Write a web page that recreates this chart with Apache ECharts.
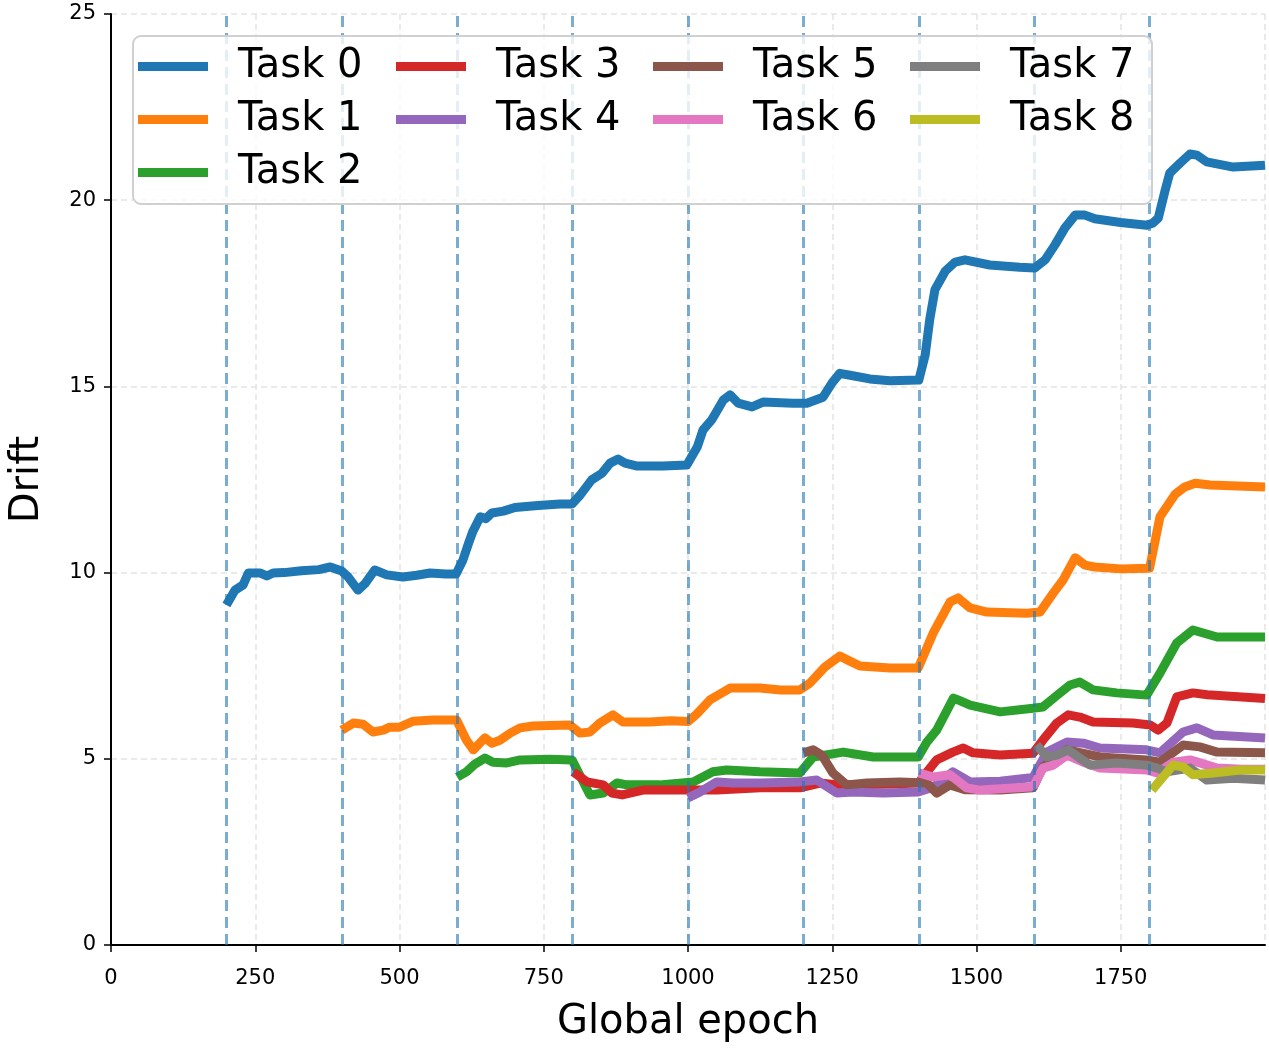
<!DOCTYPE html>
<html><head><meta charset="utf-8">
<script src="https://cdn.jsdelivr.net/npm/echarts@6/dist/echarts.min.js"></script>
<style>html,body{margin:0;padding:0;background:#fff}#c{width:1269px;height:1049px}</style>
</head><body><div id="c"></div>
<script>
const taskNames = ['Task 0','Task 1','Task 2','Task 3','Task 4','Task 5','Task 6','Task 7','Task 8'];
const taskColors = ['#1f77b4','#ff7f0e','#2ca02c','#d62728','#9467bd','#8c564b','#e377c2','#7f7f7f','#bcbd22'];
const boundaries = [200,400,600,800,1000,1200,1400,1600,1800];
const xTicks = [0,250,500,750,1000,1250,1500,1750];
const yTicks = [0,5,10,15,20,25];

const task0 = [[200,9.13],[215,9.53],[229,9.67],[238,9.99],[258,9.99],[270,9.91],[281,9.99],[300,10.0],[330,10.05],[360,10.08],[380,10.15],[400,10.04],[410,9.9],[428,9.53],[440,9.7],[457,10.07],[478,9.94],[506,9.88],[530,9.93],[553,9.99],[580,9.96],[598,9.96],[610,10.34],[620,10.8],[627,11.1],[640,11.5],[650,11.45],[660,11.6],[680,11.65],[700,11.75],[740,11.8],[778,11.84],[799,11.84],[813,12.08],[833,12.49],[851,12.67],[865,12.94],[879,13.05],[891,12.94],[912,12.86],[957,12.86],[998,12.89],[1016,13.37],[1026,13.83],[1041,14.1],[1061,14.63],[1073,14.77],[1087,14.55],[1111,14.45],[1130,14.58],[1182,14.55],[1206,14.55],[1234,14.71],[1250,15.1],[1263,15.35],[1281,15.3],[1315,15.2],[1350,15.15],[1400,15.17],[1411,15.84],[1419,16.8],[1428,17.6],[1446,18.1],[1463,18.34],[1480,18.4],[1523,18.26],[1575,18.2],[1601,18.18],[1619,18.4],[1636,18.8],[1653,19.25],[1671,19.6],[1688,19.6],[1705,19.5],[1750,19.4],[1795,19.33],[1805,19.38],[1815,19.52],[1827,20.27],[1835,20.73],[1853,21.0],[1870,21.24],[1882,21.21],[1899,21.03],[1945,20.89],[2000,20.94]];
const task1 = [[400,5.77],[420,5.96],[437,5.93],[454,5.72],[472,5.77],[483,5.85],[500,5.85],[524,6.01],[558,6.04],[599,6.04],[616,5.5],[628,5.24],[648,5.56],[660,5.42],[674,5.5],[692,5.69],[709,5.83],[731,5.88],[795,5.91],[813,5.69],[830,5.72],[847,5.96],[870,6.18],[887,5.99],[934,5.99],[970,6.02],[1000,6.0],[1015,6.2],[1038,6.58],[1073,6.9],[1125,6.9],[1160,6.85],[1194,6.85],[1211,7.03],[1237,7.46],[1263,7.76],[1277,7.65],[1298,7.49],[1350,7.44],[1399,7.44],[1425,8.38],[1454,9.21],[1468,9.32],[1489,9.05],[1518,8.94],[1587,8.91],[1610,8.94],[1633,9.45],[1650,9.8],[1671,10.4],[1688,10.2],[1705,10.15],[1750,10.1],[1800,10.12],[1818,11.5],[1844,12.1],[1861,12.3],[1879,12.4],[1905,12.35],[2000,12.3]];
const task2 = [[600,4.51],[616,4.65],[630,4.85],[648,5.02],[662,4.91],[686,4.89],[709,4.97],[761,4.99],[799,4.97],[808,4.7],[830,4.03],[853,4.08],[877,4.35],[894,4.3],[951,4.3],[1009,4.38],[1043,4.65],[1067,4.7],[1125,4.65],[1194,4.62],[1217,5.05],[1269,5.18],[1321,5.05],[1399,5.05],[1414,5.45],[1431,5.77],[1460,6.63],[1468,6.58],[1489,6.44],[1541,6.26],[1598,6.36],[1615,6.39],[1640,6.71],[1662,6.98],[1679,7.06],[1702,6.85],[1743,6.77],[1795,6.71],[1818,7.3],[1847,8.11],[1875,8.46],[1917,8.27],[2000,8.27]];
const task3 = [[801,4.65],[825,4.38],[853,4.3],[868,4.08],[886,4.03],[922,4.16],[998,4.16],[1050,4.16],[1125,4.22],[1194,4.22],[1229,4.35],[1260,4.3],[1300,4.3],[1350,4.32],[1400,4.35],[1407,4.51],[1431,4.97],[1459,5.18],[1477,5.29],[1494,5.16],[1541,5.1],[1598,5.15],[1615,5.5],[1639,5.96],[1659,6.18],[1679,6.12],[1702,5.99],[1771,5.96],[1801,5.91],[1815,5.77],[1830,5.96],[1847,6.66],[1875,6.77],[1900,6.72],[2000,6.62]];
const task4 = [[1000,3.95],[1021,4.11],[1050,4.38],[1078,4.35],[1125,4.35],[1194,4.38],[1223,4.43],[1258,4.08],[1286,4.11],[1338,4.08],[1399,4.11],[1425,4.24],[1459,4.65],[1489,4.38],[1541,4.4],[1598,4.5],[1622,5.18],[1657,5.45],[1685,5.42],[1714,5.29],[1795,5.24],[1818,5.16],[1858,5.72],[1882,5.83],[1910,5.64],[2000,5.56]];
const task5 = [[1200,5.16],[1217,5.24],[1232,5.1],[1251,4.62],[1275,4.3],[1310,4.35],[1367,4.38],[1414,4.35],[1431,4.08],[1454,4.3],[1480,4.17],[1541,4.16],[1598,4.22],[1615,4.78],[1657,5.24],[1714,5.05],[1795,4.97],[1818,4.91],[1858,5.37],[1887,5.32],[1917,5.18],[2000,5.16]];
const task6 = [[1400,4.62],[1425,4.51],[1454,4.57],[1483,4.22],[1506,4.16],[1593,4.24],[1600,4.3],[1615,4.75],[1633,4.83],[1657,5.1],[1685,4.91],[1714,4.75],[1795,4.7],[1813,4.62],[1841,4.91],[1870,4.97],[1917,4.75],[1960,4.72],[2000,4.72]];
const task7 = [[1604,5.37],[1622,5.05],[1639,5.1],[1659,5.24],[1676,5.05],[1697,4.83],[1743,4.89],[1795,4.83],[1813,4.75],[1830,4.65],[1870,4.75],[1899,4.43],[1945,4.48],[2000,4.43]];
const task8 = [[1804,4.16],[1823,4.51],[1841,4.83],[1858,4.78],[1875,4.57],[1910,4.62],[1957,4.7],[2000,4.7]];
const taskData = [task0,task1,task2,task3,task4,task5,task6,task7,task8];
const legendColumns = [[0,1,2],[3,4],[5,6],[7,8]];

const FONT = 'DejaVu Sans';
const chart = echarts.init(document.getElementById('c'), null, {renderer:'canvas'});

const series = [{
  name: 'boundaries', type: 'line', data: [], z: 1, silent: true,
  markLine: {
    silent: true, symbol: 'none', label: {show:false},
    lineStyle: {color:'rgba(31,119,180,0.6)', type:[11,6], width:3},
    data: boundaries.map(b => ({xAxis: b}))
  }
}];
taskData.forEach((d,i) => series.push({
  name: taskNames[i], type: 'line', data: d, showSymbol: false, symbol: 'none',
  z: 2, silent: true,
  lineStyle: {color: taskColors[i], width: 9, join: 'round', cap: 'butt'},
  itemStyle: {color: taskColors[i]}
}));

const legendLefts = [138, 396, 653, 910];
const legends = legendColumns.map((col, k) => ({
  data: col.map(i => taskNames[i]),
  orient: 'vertical', left: legendLefts[k], top: 45, padding: 0,
  icon: 'rect', itemWidth: 70, itemHeight: 9, itemGap: 10,
  selectedMode: false, z: 10,
  textStyle: {fontFamily: FONT, fontSize: 40, color: '#000', lineHeight: 43, padding: [0,0,0,25]}
}));

chart.setOption({
  animation: false,
  textStyle: {fontFamily: FONT},
  grid: {left: 111, right: 4, top: 14, bottom: 104, containLabel: false, outerBoundsMode: 'none'},
  legend: legends,
  graphic: [{
    type: 'rect', z: 8, silent: true,
    shape: {x: 133, y: 36, width: 1019, height: 168, r: 8},
    style: {fill: 'rgba(255,255,255,0.8)', stroke: '#d0d0d0', lineWidth: 2}
  }],
  xAxis: {
    type: 'value', min: 0, max: 2000, interval: 250,
    name: 'Global epoch', nameLocation: 'middle', nameGap: 58,
    nameTextStyle: {fontFamily: FONT, fontSize: 40, color: '#000'},
    axisLine: {show: true, lineStyle: {color: '#000', width: 2}},
    axisTick: {show: true, length: 7, lineStyle: {color: '#000', width: 1.5}},
    axisLabel: {fontFamily: FONT, fontSize: 21, color: '#000', margin: 23, showMaxLabel: false,
      formatter: v => xTicks.includes(v) ? String(v) : ''},
    splitLine: {show: true, lineStyle: {color: '#e3e3e3', width: 1.5, type: [6,4]}}
  },
  yAxis: {
    type: 'value', min: 0, max: 25, interval: 5,
    name: 'Drift', nameLocation: 'middle', nameGap: 63,
    nameTextStyle: {fontFamily: FONT, fontSize: 40, color: '#000'},
    axisLine: {show: true, lineStyle: {color: '#000', width: 2}},
    axisTick: {show: true, length: 7, lineStyle: {color: '#000', width: 1.5}},
    axisLabel: {fontFamily: FONT, fontSize: 21, color: '#000', margin: 15,
      formatter: v => yTicks.includes(v) ? String(v) : ''},
    splitLine: {show: true, lineStyle: {color: '#e3e3e3', width: 1.5, type: [6,4]}}
  },
  series: series
});
</script></body></html>
